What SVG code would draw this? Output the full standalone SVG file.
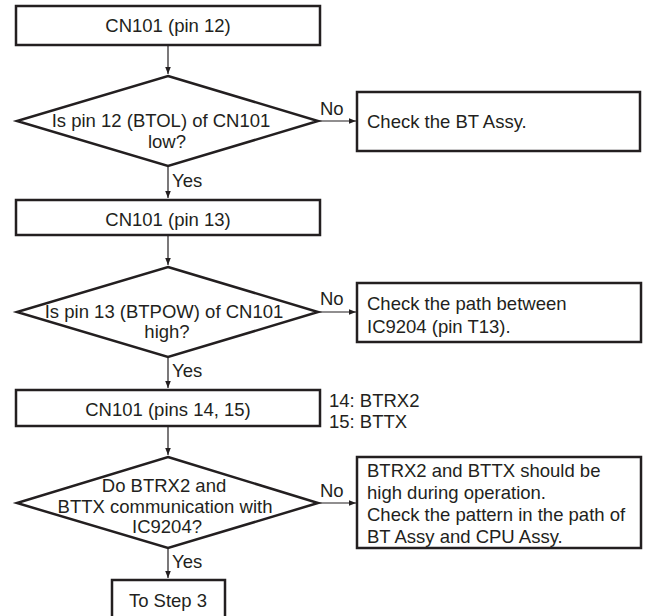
<svg xmlns="http://www.w3.org/2000/svg" width="652" height="616" viewBox="0 0 652 616">
<style>
.box{fill:#fff;stroke:#231f20;stroke-width:2.5}
.t{font-family:"Liberation Sans",Arial,sans-serif;font-size:18.5px;fill:#231f20}
.c{text-anchor:middle}
.ln{stroke:#231f20;stroke-width:1.2;fill:none}
</style>
<defs>
<marker id="ah" viewBox="0 0 10 10" refX="10" refY="5" markerWidth="9" markerHeight="7" markerUnits="userSpaceOnUse" orient="auto">
<path d="M0,1 L10,5 L0,9 Z" fill="#231f20"/>
</marker>
</defs>
<rect width="652" height="616" fill="#fff"/>
<g id="connectors">
<line class="ln" x1="168" y1="45" x2="168" y2="74" marker-end="url(#ah)"/>
<line class="ln" x1="168" y1="166" x2="168" y2="198" marker-end="url(#ah)"/>
<line class="ln" x1="318" y1="121" x2="356" y2="121" marker-end="url(#ah)"/>
<line class="ln" x1="168" y1="235" x2="168" y2="265" marker-end="url(#ah)"/>
<line class="ln" x1="168" y1="357" x2="168" y2="388" marker-end="url(#ah)"/>
<line class="ln" x1="318" y1="312" x2="356" y2="312" marker-end="url(#ah)"/>
<line class="ln" x1="168" y1="426" x2="168" y2="455" marker-end="url(#ah)"/>
<line class="ln" x1="168" y1="548" x2="168" y2="578" marker-end="url(#ah)"/>
<line class="ln" x1="318" y1="503" x2="356" y2="503" marker-end="url(#ah)"/>
<text class="t" x="320" y="115">No</text>
<text class="t" x="172" y="187">Yes</text>
<text class="t" x="320" y="305">No</text>
<text class="t" x="172" y="377">Yes</text>
<text class="t" x="320" y="497">No</text>
<text class="t" x="172" y="568">Yes</text>
</g>
<g id="n1">
<rect class="box" x="16" y="6" width="304" height="39"/>
<text class="t c" x="168" y="32">CN101 (pin 12)</text>
</g>
<g id="d1">
<polygon class="box" points="168,76 318,121 168,166 17,121"/>
<text class="t c" x="161" y="127">Is pin 12 (BTOL) of CN101</text>
<text class="t c" x="167" y="148">low?</text>
</g>
<g id="n2">
<rect class="box" x="357" y="92" width="283" height="59"/>
<text class="t" x="367" y="128">Check the BT Assy.</text>
</g>
<g id="n3">
<rect class="box" x="16" y="200" width="304" height="35"/>
<text class="t c" x="168" y="226">CN101 (pin 13)</text>
</g>
<g id="d2">
<polygon class="box" points="168,267 318,312 168,357 17,312"/>
<text class="t c" x="164" y="318">Is pin 13 (BTPOW) of CN101</text>
<text class="t c" x="167" y="338">high?</text>
</g>
<g id="n4">
<rect class="box" x="357" y="283" width="284" height="59"/>
<text class="t" x="367" y="310">Check the path between</text>
<text class="t" x="367" y="333">IC9204 (pin T13).</text>
</g>
<g id="n5">
<rect class="box" x="16" y="390" width="304" height="36"/>
<text class="t c" x="168" y="416">CN101 (pins 14, 15)</text>
</g>
<g id="note">
<text class="t" x="329" y="407">14: BTRX2</text>
<text class="t" x="329" y="428">15: BTTX</text>
</g>
<g id="d3">
<polygon class="box" points="168,457 318,503 168,548 17,503"/>
<text class="t c" x="164" y="492">Do BTRX2 and</text>
<text class="t c" x="165" y="513">BTTX communication with</text>
<text class="t c" x="167" y="533">IC9204?</text>
</g>
<g id="n6">
<rect class="box" x="357" y="457" width="284" height="91"/>
<text class="t" x="367" y="477">BTRX2 and BTTX should be</text>
<text class="t" x="367" y="499">high during operation.</text>
<text class="t" x="367" y="521">Check the pattern in the path of</text>
<text class="t" x="367" y="543">BT Assy and CPU Assy.</text>
</g>
<g id="n7">
<rect class="box" x="112" y="580" width="113" height="45"/>
<text class="t c" x="168" y="607">To Step 3</text>
</g>
</svg>
